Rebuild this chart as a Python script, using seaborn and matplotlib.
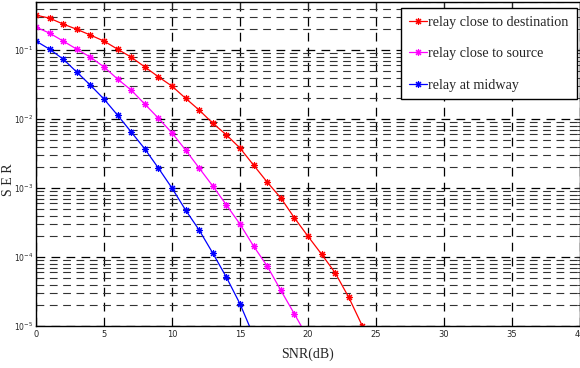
import numpy as np
import pandas as pd
import matplotlib
matplotlib.use("Agg")
import matplotlib.pyplot as plt
import seaborn as sns
from matplotlib.ticker import LogLocator, FixedLocator, NullFormatter

snr_red = list(range(0, 25))
ser_red = [0.321, 0.29, 0.238, 0.20, 0.165, 0.135, 0.103, 0.079, 0.057, 0.041,
           0.030, 0.020, 0.0135, 0.0087, 0.0059, 0.0038, 0.00215, 0.00122,
           7.2e-4, 3.7e-4, 2.0e-4, 1.1e-4, 5.9e-5, 2.6e-5, 1.0e-5]
snr_mag = list(range(0, 21))
ser_mag = [0.215, 0.176, 0.135, 0.103, 0.079, 0.057, 0.038, 0.0263, 0.0165,
           0.0103, 0.0063, 0.00356, 0.00195, 0.00107, 5.7e-4, 3.0e-4, 1.44e-4,
           7.4e-5, 3.3e-5, 1.5e-5, 6.7e-6]
snr_blue = list(range(0, 17))
ser_blue = [0.135, 0.103, 0.074, 0.048, 0.031, 0.0195, 0.0114, 0.0065, 0.0037,
            0.00195, 1.0e-3, 4.8e-4, 2.46e-4, 1.14e-4, 5.1e-5, 2.1e-5, 7.2e-6]

labels = ["relay close to destination", "relay close to source", "relay at midway"]
colors = ["#ff0000", "#ff00ff", "#0000ff"]
xticks = [0, 5, 10, 15, 20, 25, 30, 35, 40]

series = [(snr_red, ser_red), (snr_mag, ser_mag), (snr_blue, ser_blue)]

sns.set_style("white")
fig = plt.figure(figsize=(5.8, 3.68), dpi=100)
ax = fig.add_axes([0.062, 0.114, 0.938, 0.881])

for (xs, ys), lab, col in zip(series, labels, colors):
    d = pd.DataFrame({"SNR": xs, "SER": ys})
    sns.lineplot(data=d, x="SNR", y="SER", color=col, label=lab, ax=ax,
                 linestyle="-", linewidth=0.9, marker=(8, 2, 0),
                 markersize=5, markeredgewidth=0.8, markeredgecolor=col,
                 sort=False)

ax.set_yscale("log")
ax.set_xlim(0, 40)
ax.set_ylim(1e-5, 0.5)
ax.set_xticks(xticks)
ax.set_xticklabels([str(t) for t in xticks])
ax.yaxis.set_major_locator(FixedLocator([1e-5, 1e-4, 1e-3, 1e-2, 1e-1]))
ax.yaxis.set_minor_locator(LogLocator(base=10, subs=np.arange(2, 10), numticks=20))
ax.yaxis.set_minor_formatter(NullFormatter())

ax.grid(True, which="major", axis="both", color="black", linestyle=(0, (7, 5)), linewidth=0.9)
ax.grid(True, which="minor", axis="y", color="#333333", linestyle=(0, (7, 5)), linewidth=0.8)

for s in ax.spines.values():
    s.set_color("black")
    s.set_linewidth(1.0)
ax.tick_params(axis="both", which="major", direction="in", length=4, width=0.8,
               labelsize=6, top=True, right=True, pad=3)
ax.tick_params(axis="y", which="minor", direction="in", length=2, width=0.6, right=True)
ax.tick_params(axis="y", which="major", labelsize=5.5, pad=2)
for lab in ax.get_xticklabels() + ax.get_yticklabels():
    lab.set_family(["Liberation Sans Narrow", "DejaVu Sans"])

ax.set_xlabel("SNR(dB)", family="Liberation Serif", fontsize=10, labelpad=6)
ax.set_ylabel("S E R", family="Liberation Serif", fontsize=10)
ax.yaxis.set_label_coords(-0.038, 0.45)

leg = ax.legend(loc="upper right", prop={"family": "Liberation Serif", "size": 10.2},
                frameon=True, fancybox=False, framealpha=1, edgecolor="black",
                handlelength=1.3, handletextpad=0.1, borderpad=0.55, labelspacing=1.3,
                borderaxespad=0.2, bbox_to_anchor=(0.999, 0.99))
leg.get_frame().set_linewidth(1.0)

fig.savefig("out.png", dpi=100)
